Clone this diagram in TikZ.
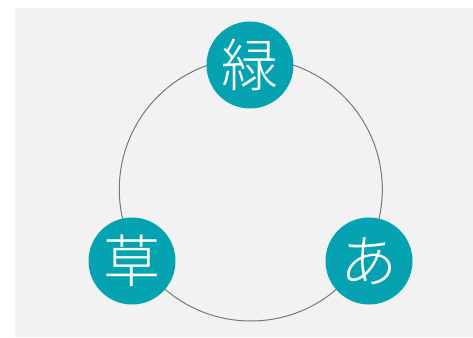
\documentclass[tikz,border=0pt]{standalone}
\usepackage{fontspec}
\newfontfamily\cjk{Noto Sans CJK JP Light}
\definecolor{bgc}{HTML}{F2F2F2}
\definecolor{teal1}{HTML}{05A3B1}
\definecolor{ringc}{HTML}{787878}
\begin{document}
\begin{tikzpicture}[x=1pt,y=1pt,
  bubble/.style={circle,fill=teal1,text=white,minimum size=87pt,inner sep=0pt,font=\cjk\fontsize{57}{60}\selectfont},
  ring/.style={draw=ringc,line width=1pt}]
\useasboundingbox (0,0) rectangle (473,337);
\fill[bgc] (15,0) rectangle (473,329);
\node[circle,minimum size=263pt,inner sep=0pt,ring] (r) at (250.8,147.5) {};
\node[bubble] (a) at (250,272) {緑};
\node[bubble] (b) at (132,76) {草};
\node[bubble] (c) at (369,76) {あ};
\end{tikzpicture}
\end{document}
